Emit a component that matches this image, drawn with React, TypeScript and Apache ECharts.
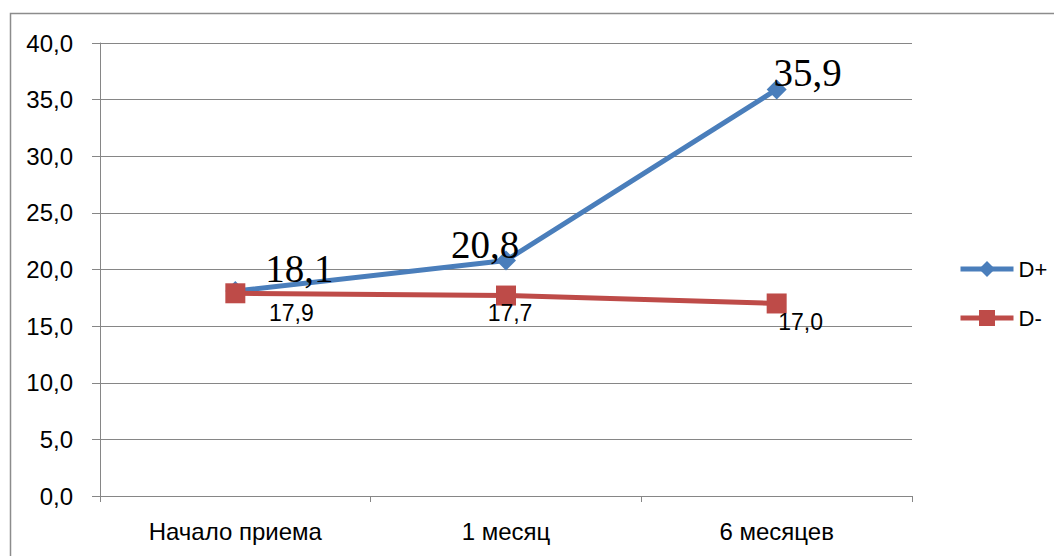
import React, { useEffect, useRef } from "react";
import * as echarts from "echarts";

const categories = ["Начало приема", "1 месяц", "6 месяцев"];
const dPlus = [18.1, 20.8, 35.9];
const dMinus = [17.9, 17.7, 17.0];
const seriesNames = ["D+", "D-"];

const fmt = (v: number) => v.toFixed(1).replace(".", ",");

export default function App() {
  const ref = useRef<HTMLDivElement>(null);

  useEffect(() => {
    document.body.style.margin = "0";
    const chart = echarts.init(ref.current!, null, { renderer: "svg" });
    const sans = "Liberation Sans";
    const serif = "Liberation Serif";
    // per-point label nudges
    const plusOffsets = [[64, 9], [-21, 16], [31, 15]];
    const minusOffsets = [[56, -6], [4, -8], [24, -7]];
    const blue = "#4a7ebb";
    const red = "#be4b48";

    chart.setOption({
      animation: false,
      backgroundColor: "#fff",
      graphic: [
        {
          type: "rect",
          shape: { x: 10.5, y: 13.5, width: 1100, height: 600 },
          style: { fill: "none", stroke: "#8c8c8c", lineWidth: 1.5 },
          silent: true,
        },
      ],
      grid: { left: 100, right: 142, top: 43, bottom: 60 },
      legend: {
        orient: "vertical",
        left: 953,
        top: 252,
        itemWidth: 53,
        itemHeight: 20,
        itemGap: 25,
        textStyle: { fontFamily: sans, fontSize: 22, lineHeight: 24, color: "#000" },
        data: [
          { name: seriesNames[0], lineStyle: { width: 5 } },
          { name: seriesNames[1], lineStyle: { width: 5 } },
        ],
      },
      xAxis: {
        type: "category",
        data: categories,
        boundaryGap: true,
        axisLine: { lineStyle: { color: "#868686", width: 1 } },
        axisTick: { show: true, length: 6, lineStyle: { color: "#868686" } },
        axisLabel: { fontFamily: sans, fontSize: 24, color: "#000", margin: 23 },
      },
      yAxis: {
        type: "value",
        min: 0,
        max: 40,
        interval: 5,
        axisLine: { show: true, lineStyle: { color: "#868686", width: 1 } },
        axisTick: { show: true, length: 8, lineStyle: { color: "#868686" } },
        axisLabel: {
          fontFamily: sans,
          fontSize: 24,
          color: "#000",
          margin: 27,
          formatter: (v: number) => fmt(v),
        },
        splitLine: { lineStyle: { color: "#868686", width: 1 } },
      },
      series: [
        {
          name: seriesNames[0],
          type: "line",
          data: dPlus.map((v, i) => ({
            value: v,
            label: { offset: plusOffsets[i] },
          })),
          symbol: "diamond",
          symbolSize: 20,
          lineStyle: { color: blue, width: 5 },
          itemStyle: { color: blue },
          z: 3,
          label: {
            show: true,
            position: "top",
            distance: 2,
            fontFamily: serif,
            fontSize: 39,
            color: "#000",
            formatter: (p: any) => fmt(p.value),
          },
        },
        {
          name: seriesNames[1],
          type: "line",
          data: dMinus.map((v, i) => ({
            value: v,
            label: { offset: minusOffsets[i] },
          })),
          symbol: "rect",
          symbolSize: 20,
          lineStyle: { color: red, width: 5 },
          itemStyle: { color: red },
          z: 4,
          label: {
            show: true,
            position: "bottom",
            distance: 4,
            fontFamily: sans,
            fontSize: 23,
            color: "#000",
            formatter: (p: any) => fmt(p.value),
          },
        },
      ],
    });
    return () => chart.dispose();
  }, []);

  return <div ref={ref} style={{ width: 1054, height: 556 }} />;
}
